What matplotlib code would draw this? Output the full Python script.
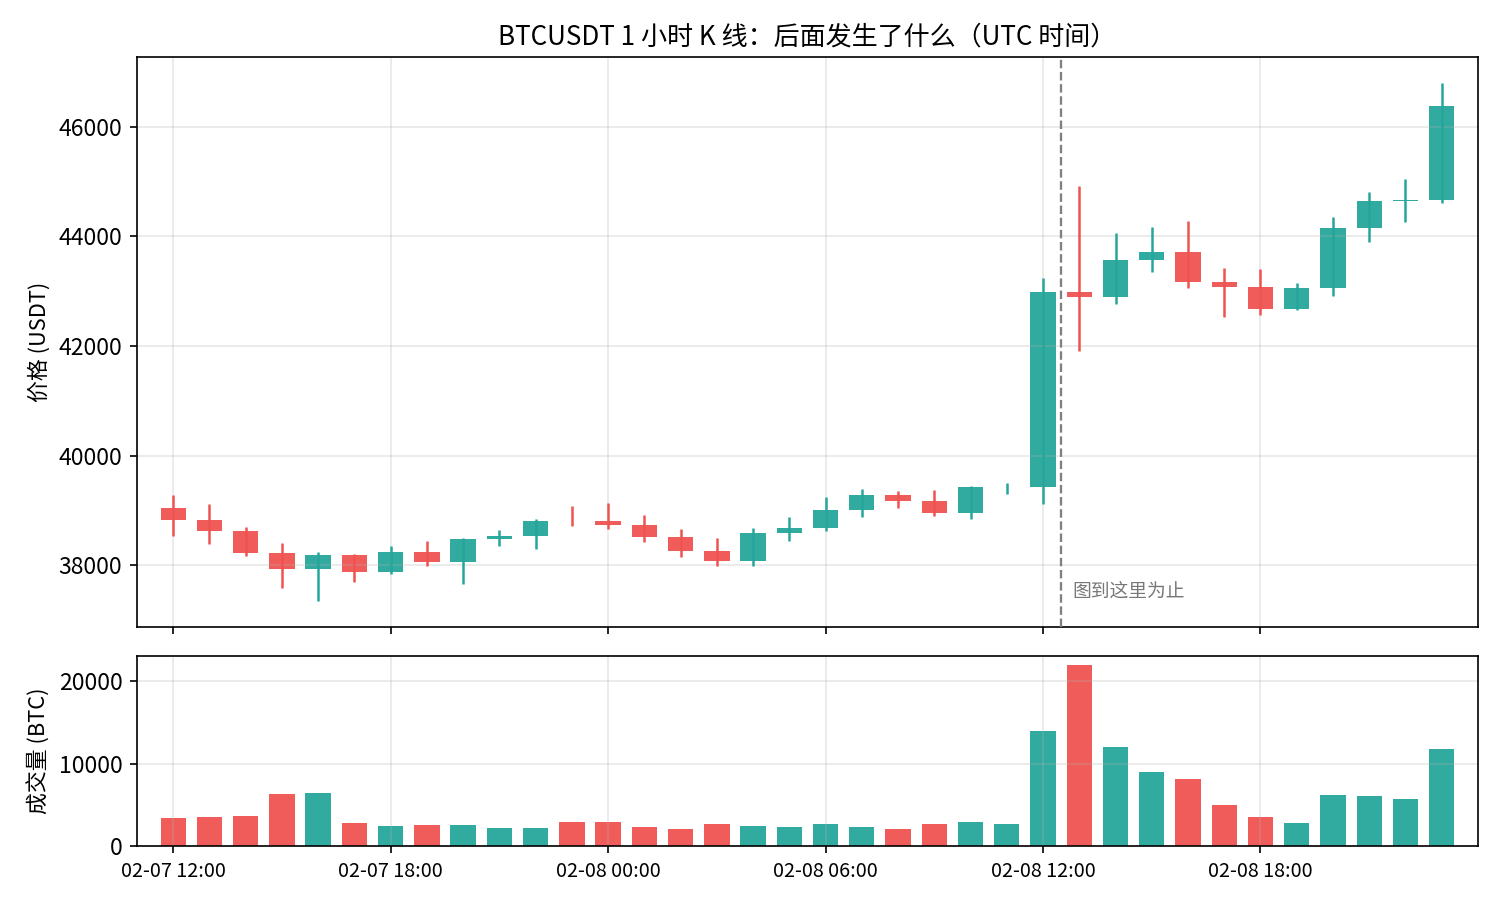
import matplotlib
matplotlib.use("Agg")
import matplotlib.pyplot as plt
import matplotlib.dates as mdates
import pandas as pd
import numpy as np

plt.rcParams['font.family'] = ['Noto Sans CJK SC', 'DejaVu Sans']
plt.rcParams['axes.unicode_minus'] = False

# 1h candles, 2021-02-07 12:00 .. 2021-02-08 23:00 (UTC)
times = pd.date_range("2021-02-07 12:00", periods=36, freq="h")

opens = [39041, 38822, 38621, 38219, 37927, 38183, 37872, 38237, 38055, 38475,
         38530, 38803, 38803, 38730, 38511, 38256, 38073, 38584, 38676, 39004,
         39278, 39169, 38950, 39424, 39424, 42985, 42894, 43569, 43715, 43168,
         43076, 42675, 43058, 44154, 44647, 44670]
closes = [38822, 38621, 38219, 37927, 38183, 37872, 38237, 38055, 38475, 38530,
          38803, 38800, 38730, 38511, 38256, 38073, 38584, 38676, 39004, 39278,
          39169, 38950, 39424, 39424, 42985, 42894, 43569, 43715, 43168, 43076,
          42675, 43058, 44154, 44647, 44670, 46387]
highs = [39278, 39114, 38694, 38402, 38237, 38201, 38347, 38438, 38493, 38639,
         38840, 39077, 39132, 38913, 38657, 38493, 38676, 38877, 39242, 39388,
         39351, 39370, 39443, 39497, 43241, 44921, 44062, 44172, 44281, 43423,
         43405, 43149, 44354, 44811, 45048, 46801]
lows = [38530, 38383, 38164, 37580, 37343, 37690, 37836, 37982, 37653, 38347,
        38292, 38712, 38657, 38420, 38146, 37982, 37982, 38438, 38621, 38877,
        39041, 38895, 38840, 39296, 39114, 41908, 42766, 43350, 43058, 42528,
        42565, 42656, 42912, 43898, 44263, 44616]
volumes = [3448, 3570, 3692, 6247, 6369, 2840, 2475, 2596, 2596, 2231,
           2231, 2961, 2961, 2353, 2110, 2718, 2475, 2353, 2718, 2353,
           2110, 2718, 2961, 2718, 13915, 21947, 11968, 8925, 8073, 5030,
           3570, 2840, 6126, 6004, 5761, 11724]

cutoff = pd.Timestamp("2021-02-08 12:30")

UP = "#26A69A"
DOWN = "#EF5350"

df = pd.DataFrame({"open": opens, "high": highs, "low": lows,
                   "close": closes, "volume": volumes}, index=times)
up = df["close"] >= df["open"]
colors = np.where(up, UP, DOWN)

fig = plt.figure(figsize=(10, 6), dpi=150)
ax = fig.add_axes([0.0913, 0.3033, 0.894, 0.6334])
axv = fig.add_axes([0.0913, 0.06, 0.894, 0.2111], sharex=ax)

w = 0.7 / 24
x = mdates.date2num(df.index.to_pydatetime())

# wicks
ax.vlines(x, df["low"], df["high"], colors=colors, linewidth=1.2, zorder=2)
# bodies
body_bottom = np.minimum(df["open"], df["close"])
body_height = np.abs(df["close"] - df["open"])
ax.bar(x, body_height, bottom=body_bottom, width=w, color=colors, alpha=0.95)

ax.axvline(mdates.date2num(cutoff), color="gray", linestyle="--", linewidth=1.1, zorder=3)
ax.text(mdates.date2num(cutoff) + 0.3 / 24, 37520, "图到这里为止",
        color="#777777", fontsize=9, va="center", ha="left")

ax.set_title("BTCUSDT 1 小时 K 线：后面发生了什么（UTC 时间）", fontsize=12.5)
ax.set_ylabel("价格 (USDT)", fontsize=10.5)
ax.grid(True, alpha=0.3)
ax.tick_params(axis="y", labelsize=11)
ax.tick_params(axis="x", labelbottom=False)

axv.bar(x, df["volume"], width=w, color=colors, alpha=0.95)
axv.set_ylabel("成交量 (BTC)", fontsize=10.5)
axv.grid(True, alpha=0.3)
axv.tick_params(axis="y", labelsize=11)

axv.set_xlim(x[0] - 1 / 24, x[-1] + 1 / 24)
axv.set_xticks(x[::6])
axv.xaxis.set_major_formatter(mdates.DateFormatter("%m-%d %H:%M"))
axv.tick_params(axis="x", labelsize=9.5)

fig.savefig("out.png", dpi=150)
